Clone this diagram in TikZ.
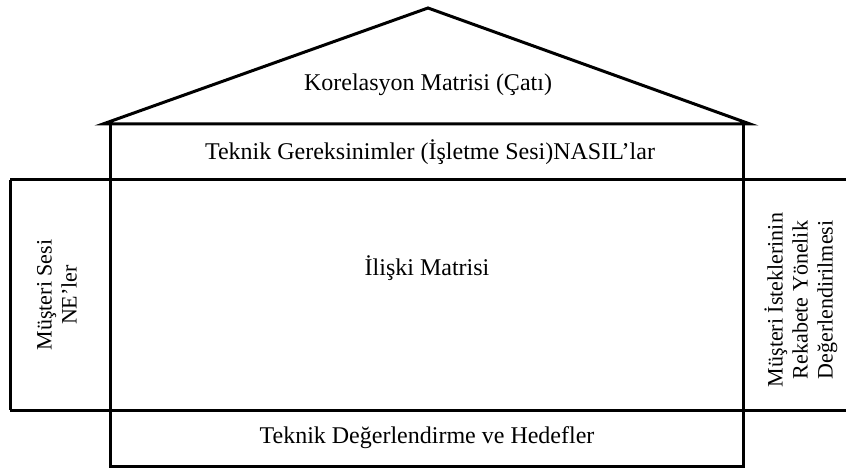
\documentclass[tikz,border=0pt]{standalone}
\usepackage{fontspec}
\setmainfont{Liberation Serif}
\usetikzlibrary{positioning}
\tikzset{
    wall/.style={line width=3pt, line join=miter},
    lbl/.style={font=\fontsize{24}{28}\selectfont, align=center, inner sep=0pt},
    sidelbl/.style={font=\fontsize{22}{25}\selectfont, align=center, inner sep=0pt, rotate=90}
}

\begin{document}
\begin{tikzpicture}[x=1pt, y=-1pt]
    \useasboundingbox (0,0) rectangle (846,470);
    % corners of the house
    \coordinate (apex) at (428,8);
    \coordinate (eaveL) at (103,124);
    \coordinate (eaveR) at (750,124);
    \coordinate (wallL) at (110,124);
    \coordinate (wallR) at (743,124);
    \coordinate (baseL) at (110,466);
    \coordinate (baseR) at (743,466);
    \coordinate (bandTL) at (10,180);
    \coordinate (bandTR) at (846,180);
    \coordinate (bandBL) at (10,410);
    \coordinate (bandBR) at (846,410);
    % roof
    \draw[wall] (eaveL) -- (apex) -- (eaveR) -- cycle;
    % walls and floor
    \draw[wall] (wallL) -- (baseL) -- (baseR) -- (wallR);
    \draw[wall] (bandTL) -- (bandTR);
    \draw[wall] (bandBL) -- (bandBR);
    \draw[wall] (bandTL) -- (bandBL);
    % labels
    \node[lbl] (cati) at (428,85) {Korelasyon Matrisi (Çatı)};
    \node[lbl] (nasil) at (430,152) {Teknik Gereksinimler (İşletme Sesi)NASIL’lar};
    \node[lbl] (iliski) at (427,268) {İlişki Matrisi};
    \node[lbl] (hedef) at (427,438) {Teknik Değerlendirme ve Hedefler};
    \node[sidelbl] (ne) at (57,295) {Müşteri Sesi\\NE’ler};
    \node[sidelbl] (rekabet) at (801,300) {Müşteri İsteklerinin\\Rekabete Yönelik\\Değerlendirilmesi};
\end{tikzpicture}
\end{document}
